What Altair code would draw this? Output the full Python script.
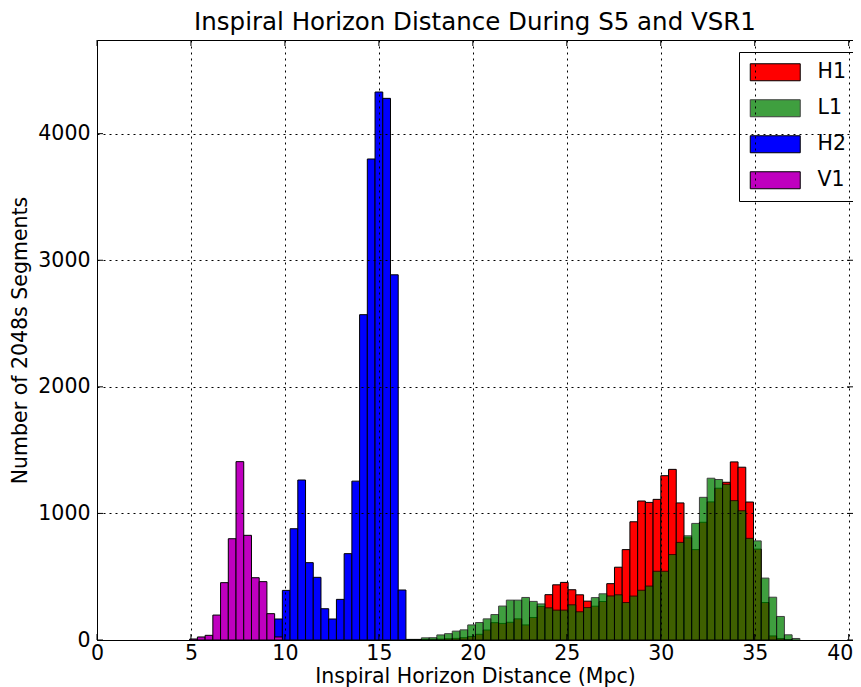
import altair as alt
import pandas as pd

# ---------------- data ----------------
BIN_WIDTH = 0.411  # histogram bin width (Mpc); bins start at 0

SERIES = ["H1", "L1", "H2", "V1"]
COLORS = ["#ff0000", "#008000", "#0000ff", "#bf00bf"]
EDGES = ["black", "black", "black", "black"]
ALPHAS = [1.0, 0.75, 1.0, 1.0]

H1_START = 40
H1_COUNTS = [3, 3, 4, 5, 7, 10, 13, 18, 28, 45, 79, 137, 131, 140, 167, 119,
             178, 265, 358, 436, 455, 397, 357, 307, 267, 304, 445, 575, 714,
             934, 1098, 1087, 1111, 1298, 1348, 1083, 807, 714, 930, 1091,
             1199, 1246, 1407, 1365, 1090, 718, 296, 32, 12, 2]

L1_START = 40
L1_COUNTS = [5, 5, 17, 18, 40, 50, 70, 80, 119, 138, 167, 201, 268, 315, 315,
             336, 305, 285, 254, 236, 236, 278, 223, 256, 335, 365, 348, 357,
             296, 347, 393, 426, 543, 543, 675, 771, 823, 921, 1127, 1278,
             1268, 1230, 1101, 1021, 803, 783, 489, 338, 186, 41, 12]

H2_START = 23
H2_COUNTS = [166, 392, 879, 1264, 611, 495, 247, 166, 321, 682, 1255, 2570,
             3800, 4329, 4279, 2885, 395]

V1_START = 12
V1_COUNTS = [8, 24, 37, 197, 453, 800, 1409, 827, 492, 461, 208, 24]

X_TICKS = [0, 5, 10, 15, 20, 25, 30, 35, 40]
Y_TICKS = [0, 1000, 2000, 3000, 4000]
X_DOMAIN = [0, 40.23]
Y_DOMAIN = [0, 4740]

TITLE = "Inspiral Horizon Distance During S5 and VSR1"
X_TITLE = "Inspiral Horizon Distance (Mpc)"
Y_TITLE = "Number of 2048s Segments"

# ---------------- build table ----------------
rows = []
for name, start, counts in [("H1", H1_START, H1_COUNTS),
                            ("L1", L1_START, L1_COUNTS),
                            ("H2", H2_START, H2_COUNTS),
                            ("V1", V1_START, V1_COUNTS)]:
    for k, c in enumerate(counts):
        i = start + k
        rows.append({"series": name, "x0": i * BIN_WIDTH,
                     "x1": (i + 1) * BIN_WIDTH, "count": c,
                     "order": SERIES.index(name)})
df = pd.DataFrame(rows)

FONT = "DejaVu Sans"
W, H = 756, 600
FS = 20.5

xscale = alt.Scale(domain=X_DOMAIN, nice=False, zero=False)
yscale = alt.Scale(domain=Y_DOMAIN, nice=False, zero=True)

xaxis = alt.Axis(values=X_TICKS, title=X_TITLE, format="d",
                 ticks=False, domain=False, grid=True,
                 gridColor="black", gridDash=[2, 4], gridWidth=1,
                 gridOpacity=1, zindex=1, labelPadding=3,
                 labelFontSize=FS, titleFontSize=FS,
                 titleFontWeight="normal", titlePadding=3,
                 labelColor="black", titleColor="black",
                 labelFlush=False,
                 labelOffset={"condition": {"test": "datum.value === 40", "value": -9},
                              "value": 0})
yaxis = alt.Axis(values=Y_TICKS, title=Y_TITLE, format="d",
                 ticks=False, domain=False, grid=True,
                 gridColor="black", gridDash=[2, 4], gridWidth=1,
                 gridOpacity=1, zindex=1, labelPadding=7,
                 labelFontSize=FS, titleFontSize=FS,
                 titleFontWeight="normal", titlePadding=7,
                 labelColor="black", titleColor="black",
                 labelFlush=False)

legend = alt.Legend(
    title=None, orient="none", legendX=642, legendY=12,
    labelFontSize=FS, labelColor="black",
    symbolType="M-2.94,-1H2.94V1H-2.94Z",
    symbolSize=289, symbolStrokeColor="black",
    symbolStrokeWidth=1, symbolOffset=16,
    labelOffset=32, padding=10, rowPadding=14,
    strokeColor="black", fillColor="white",
    cornerRadius=0)

bars = alt.Chart(df).mark_bar(strokeWidth=1).encode(
    x=alt.X("x0:Q", scale=xscale, axis=xaxis),
    x2="x1:Q",
    y=alt.Y("count:Q", stack=None, scale=yscale, axis=yaxis),
    y2=alt.datum(0),
    color=alt.Color("series:N",
                    scale=alt.Scale(domain=SERIES, range=COLORS),
                    sort=SERIES, legend=legend),
    stroke=alt.Stroke("series:N",
                      scale=alt.Scale(domain=SERIES, range=EDGES),
                      sort=SERIES, legend=legend),
    opacity=alt.Opacity("series:N",
                        scale=alt.Scale(type="ordinal", domain=SERIES, range=ALPHAS),
                        sort=SERIES, legend=legend),
    order=alt.Order("order:Q"),
)

xt = pd.DataFrame({"t": X_TICKS})
yt = pd.DataFrame({"t": Y_TICKS})

tick_b = alt.Chart(xt).mark_rule(color="black", strokeWidth=1).encode(
    x=alt.X("t:Q", scale=xscale, axis=xaxis), y=alt.value(H), y2=alt.value(H - 6))
tick_t = alt.Chart(xt).mark_rule(color="black", strokeWidth=1).encode(
    x=alt.X("t:Q", scale=xscale, axis=xaxis), y=alt.value(0), y2=alt.value(6))
tick_l = alt.Chart(yt).mark_rule(color="black", strokeWidth=1).encode(
    y=alt.Y("t:Q", scale=yscale, axis=yaxis), x=alt.value(0), x2=alt.value(6))
tick_r = alt.Chart(yt).mark_rule(color="black", strokeWidth=1).encode(
    y=alt.Y("t:Q", scale=yscale, axis=yaxis), x=alt.value(W), x2=alt.value(W - 6))

chart = alt.layer(bars, tick_b, tick_t, tick_l, tick_r).properties(
    width=W, height=H,
    title=alt.Title(TITLE, fontSize=24.5, font=FONT, fontWeight="normal",
                    anchor="middle", frame="group", offset=4, color="black"),
    autosize=alt.AutoSizeParams(type="none"),
    padding={"left": 89, "top": 32, "right": 0, "bottom": 47},
).configure(font=FONT).configure_view(stroke="black", strokeWidth=1)

chart.save("out.html", embed_options={"renderer": "svg", "actions": False})
